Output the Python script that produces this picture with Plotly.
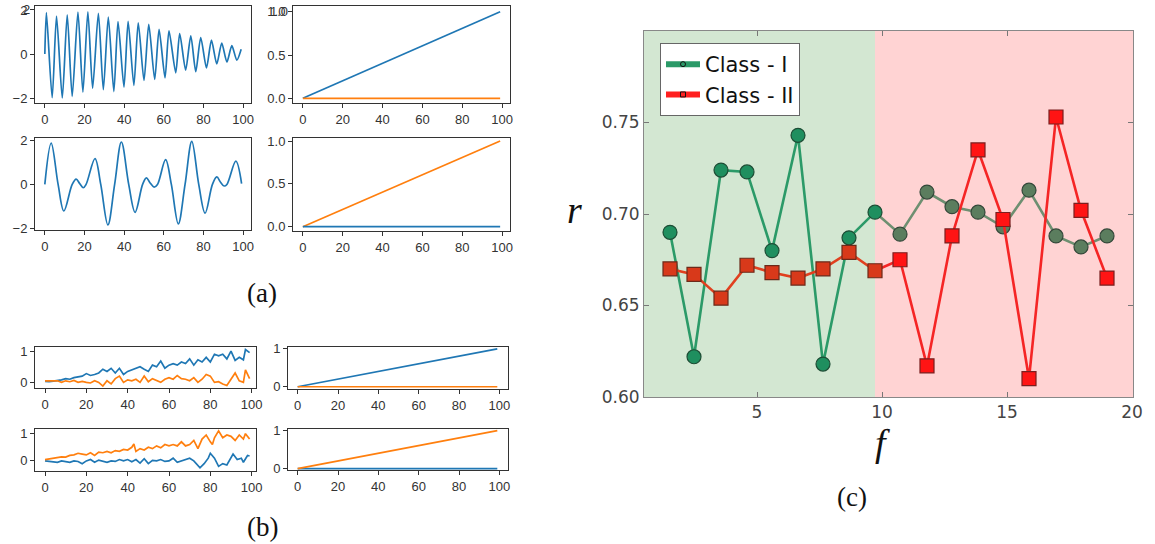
import plotly.graph_objects as go

W, H = 1155, 544

# ---------------- data ----------------
# (a) top-left: decaying oscillation (peaks / troughs)
a1_x = [0, 0.8, 3.7, 5.9, 8.8, 11.3, 13.8, 16.7, 19.2, 21.7, 24.1, 27, 29.5, 32, 34.8, 36.9, 39.9,
        42, 44.9, 47.1, 50, 52.4, 55.4, 57.6, 60.6, 62.6, 66, 68, 71, 73.6, 76.1, 78.6, 81.5, 84,
        86.7, 89.2, 91.8, 94.3, 96.8, 99]
a1_y = [0, 1.88, -1.98, 1.72, -1.99, 1.78, -1.92, 1.9, -1.73, 1.92, -1.55, 1.85, -1.62, 1.68, -1.7,
        1.47, -1.5, 1.48, -1.42, 1.42, -1.2, 1.35, -1.15, 1.12, -1.08, 1.05, -0.85, 0.93, -0.73,
        0.83, -0.8, 0.75, -0.63, 0.63, -0.45, 0.5, -0.36, 0.38, -0.28, 0.22]

# (a) second row: smooth multi-tone signal
a3_x = [0, 3.2, 6.7, 9.6, 13.8, 15.8, 17.5, 19.4, 20.8, 25.3, 28.2, 31.8, 35.2, 38.6, 42.3, 45.5,
        49.3, 51.2, 53.0, 55.1, 56.8, 60.9, 63.8, 67.3, 70.7, 74.1, 77.6, 80.8, 84.5, 86.7, 88.6,
        90.4, 91.8, 96.3, 99.2]
a3_y = [0, 1.87, 0, -1.2, 0, 0.24, 0.05, -0.15, 0, 1.17, 0, -1.83, 0, 1.92, 0, -1.26,
        0, 0.3, 0.08, -0.12, 0, 1.12, 0, -1.78, 0, 1.95, 0, -1.3, 0, 0.34, 0.1,
        -0.07, 0, 1.05, 0.04]

# straight lines of the right-hand panels
lin_x = [0, 99]
ramp_y = [0, 1]
flat_y = [0, 0]

# (b) top-left: noisy series
b1_x = [0, 2, 4, 6, 8, 10, 12, 14, 16, 18, 20, 22, 24, 26, 28, 30, 32, 34, 36, 38, 40, 42, 44, 46,
        48, 50, 52, 54, 56, 58, 60, 62, 64, 66, 68, 70, 72, 74, 76, 78, 80, 82, 84, 86, 88, 90,
        92, 94, 96, 97, 99]
b1_blue = [0.03, 0.02, 0.04, 0.05, 0.08, 0.12, 0.1, 0.15, 0.18, 0.2, 0.28, 0.22, 0.25, 0.3, 0.42,
           0.35, 0.45, 0.3, 0.45, 0.25, 0.35, 0.4, 0.45, 0.5, 0.42, 0.35, 0.55, 0.5, 0.68, 0.45,
           0.55, 0.6, 0.55, 0.65, 0.6, 0.75, 0.55, 0.72, 0.65, 0.8, 0.65, 0.9, 0.85, 0.9, 0.75,
           1.0, 0.7, 0.8, 0.72, 1.05, 0.95]
b1_orange = [0.05, 0.05, 0.03, 0.05, 0.0, 0.05, 0.02, 0.06, 0.0, 0.03, 0.0, -0.02, 0.05, 0.0,
             -0.12, 0.05, -0.05, 0.12, 0.2, 0.0, 0.08, 0.05, 0.1, 0.0, 0.2, 0.02, 0.12, 0.05, 0.0,
             0.1, 0.15, 0.1, 0.22, 0.12, 0.1, 0.05, 0.15, 0.0, 0.1, 0.25, 0.2, 0.0, 0.02, -0.05,
             -0.1, 0.1, 0.3, 0.05, 0.0, 0.4, 0.12]

# (b) bottom-left: noisy series
b3_ox = [0, 2, 4, 6, 8, 10, 12, 14, 16, 18, 20, 22, 24, 26, 28, 30, 32, 34, 36, 38, 40, 42, 43,
         44, 46, 48, 50, 52, 54, 56, 58, 60, 62, 64, 66, 68, 70, 72, 74, 76, 78, 80, 81, 82, 84,
         86, 88, 90, 92, 94, 96, 97, 99]
b3_orange = [0.05, 0.07, 0.1, 0.12, 0.15, 0.14, 0.2, 0.22, 0.28, 0.25, 0.22, 0.3, 0.2, 0.32, 0.3,
             0.35, 0.3, 0.38, 0.35, 0.42, 0.4, 0.5, 0.62, 0.35, 0.45, 0.4, 0.5, 0.45, 0.55, 0.48,
             0.6, 0.55, 0.6, 0.55, 0.7, 0.55, 0.6, 0.75, 0.45, 0.8, 0.95, 0.7, 0.6, 0.85, 1.1,
             0.85, 0.95, 0.9, 0.75, 0.95, 0.8, 1.0, 0.8]
b3_bx = [0, 2, 4, 6, 8, 10, 12, 14, 16, 18, 20, 22, 24, 26, 28, 30, 32, 34, 36, 38, 40, 42, 44,
         46, 48, 50, 52, 54, 56, 58, 60, 62, 64, 66, 68, 70, 72, 74, 75, 77, 79, 80, 82, 84, 86,
         88, 90, 91, 93, 95, 96, 98, 99]
b3_blue = [0.0, -0.02, -0.03, -0.05, 0.0, -0.03, -0.05, 0.0, -0.02, -0.1, 0.0, 0.05, -0.05, 0.03,
           0.0, -0.05, 0.0, -0.02, 0.05, 0.0, 0.05, -0.03, 0.05, -0.08, 0.08, -0.1, 0.02, 0.0,
           0.05, -0.02, 0.0, 0.1, -0.05, 0.0, 0.05, 0.1, 0.0, -0.15, -0.25, -0.1, 0.1, 0.28, 0.1,
           -0.2, -0.1, -0.15, 0.1, 0.25, 0.05, 0.1, -0.05, 0.2, 0.18]

# (c) r versus f
f_vals = [1.52, 2.48, 3.56, 4.6, 5.6, 6.64, 7.64, 8.68, 9.72, 10.72, 11.8, 12.8, 13.84, 14.84,
          15.88, 16.96, 17.96, 19.0]
r_class1 = [0.690, 0.622, 0.724, 0.723, 0.680, 0.743, 0.618, 0.687, 0.701, 0.689, 0.712, 0.704,
            0.701, 0.693, 0.713, 0.688, 0.682, 0.688]
r_class2 = [0.670, 0.667, 0.654, 0.672, 0.668, 0.665, 0.670, 0.679, 0.669, 0.675, 0.617, 0.688,
            0.735, 0.697, 0.610, 0.753, 0.702, 0.665]
class_names = ["Class - I", "Class - II"]
region_split = 9.72   # boundary between the green and the red zone
f_range = [0.48, 20.04]
r_range = [0.60, 0.80]

# ---------------- helpers ----------------
def dx(a, b):
    return [a / W, b / W]


def dy(top, bottom):
    return [1 - bottom / H, 1 - top / H]


C0, C1 = "#1f77b4", "#ff7f0e"
TICKFONT = dict(family="Liberation Sans Narrow, Liberation Sans, sans-serif", size=13, color="#333")


def mpl_axes(n, xdom, ydom, xr, yr, yvals, ytext):
    common = dict(showline=True, linecolor="#333", linewidth=1, mirror=True, ticks="outside",
                  ticklen=4, tickcolor="#333", showgrid=False, zeroline=False, tickfont=TICKFONT,
                  automargin=False, ticklabeloverflow="allow")
    xa = dict(domain=xdom, range=xr, anchor="y%d" % n if n > 1 else "y",
              tickvals=[0, 20, 40, 60, 80, 100], **common)
    ya = dict(domain=ydom, range=yr, anchor="x%d" % n if n > 1 else "x",
              tickvals=yvals, ticktext=ytext, **common)
    return xa, ya


fig = go.Figure()


def add_line(n, x, y, color, shape="linear", smoothing=1.0):
    fig.add_trace(go.Scatter(x=x, y=y, mode="lines",
                             line=dict(color=color, width=1.7, shape=shape, smoothing=smoothing),
                             xaxis="x%d" % n if n > 1 else "x", yaxis="y%d" % n if n > 1 else "y",
                             showlegend=False, hoverinfo="skip"))


# panel (a)
add_line(1, a1_x, a1_y, C0, shape="spline", smoothing=0.7)
add_line(2, lin_x, ramp_y, C0)
add_line(2, lin_x, flat_y, C1)
add_line(3, a3_x, a3_y, C0, shape="spline")
add_line(4, lin_x, ramp_y, C1)
add_line(4, lin_x, flat_y, C0)
# panel (b)
add_line(5, b1_x, b1_blue, C0)
add_line(5, b1_x, b1_orange, C1)
add_line(6, lin_x, ramp_y, C0)
add_line(6, lin_x, flat_y, C1)
add_line(7, b3_bx, b3_blue, C0)
add_line(7, b3_ox, b3_orange, C1)
add_line(8, lin_x, flat_y, C0)
add_line(8, lin_x, ramp_y, C1)

# panel (c)
k = sum(1 for v in f_vals if v <= region_split)  # points in the green zone


def add_class(yv, line_g, line_p, fill_g, fill_p, edge_g, edge_p, symbol):
    fig.add_trace(go.Scatter(x=f_vals[:k], y=yv[:k], mode="lines",
                             line=dict(color=line_g, width=2.6), xaxis="x9", yaxis="y9",
                             showlegend=False, hoverinfo="skip"))
    fig.add_trace(go.Scatter(x=f_vals[k - 1:], y=yv[k - 1:], mode="lines",
                             line=dict(color=line_p, width=2.6), xaxis="x9", yaxis="y9",
                             showlegend=False, hoverinfo="skip"))
    fills = [fill_g if v <= region_split else fill_p for v in f_vals]
    edges = [edge_g if v <= region_split else edge_p for v in f_vals]
    fig.add_trace(go.Scatter(x=f_vals, y=yv, mode="markers",
                             marker=dict(symbol=symbol, size=14, color=fills,
                                         line=dict(color=edges, width=1.2)),
                             xaxis="x9", yaxis="y9", showlegend=False, hoverinfo="skip"))


add_class(r_class1, "#2b9a68", "#6e8f71", "#1f8f5f", "#5b7d5e", "#1d4d35", "#34483a", "circle")
add_class(r_class2, "#e0401f", "#f52525", "#d8391a", "#ff1414", "#6b2a1a", "#7a1f1f", "square")

# legend entries
fig.add_trace(go.Scatter(x=[None], y=[None], mode="lines+markers", name=class_names[0],
                         line=dict(color="#2b9a68", width=6),
                         marker=dict(symbol="circle", size=5, color="#2b9a68",
                                     line=dict(color="#111", width=1)),
                         xaxis="x9", yaxis="y9"))
fig.add_trace(go.Scatter(x=[None], y=[None], mode="lines+markers", name=class_names[1],
                         line=dict(color="#ff2020", width=6),
                         marker=dict(symbol="square", size=5, color="#ff2020",
                                     line=dict(color="#111", width=1)),
                         xaxis="x9", yaxis="y9"))

layout = dict(template="none", width=W, height=H, margin=dict(l=0, r=0, t=0, b=0, pad=0),
              paper_bgcolor="white", plot_bgcolor="white", showlegend=True)

specs = [
    (1, dx(35, 251), dy(6, 103), [-4.95, 103.95], [-2.22, 2.18], [-2, 0, 2], ["\u22122", "0", "2"]),
    (2, dx(293, 510), dy(6, 103), [-4.95, 103.95], [-0.054, 1.066], [0, 0.5, 1], ["0.0", "0.5", "1.0"]),
    (3, dx(35, 251), dy(138, 230), [-4.95, 103.95], [-2.06, 2.1], [-2, 0, 2], ["\u22122", "0", "2"]),
    (4, dx(293, 510), dy(138, 231), [-4.95, 103.95], [-0.05, 1.035], [0, 0.5, 1], ["0.0", "0.5", "1.0"]),
    (5, dx(35, 256), dy(347, 388), [-4.84, 102.1], [-0.18, 1.13], [0, 1], ["0", "1"]),
    (6, dx(288, 508), dy(347, 389), [-4.8, 104.3], [-0.06, 1.05], [0, 1], ["0", "1"]),
    (7, dx(35, 256), dy(429, 471), [-4.84, 102.1], [-0.37, 1.17], [0, 1], ["0", "1"]),
    (8, dx(288, 508), dy(429, 470), [-4.8, 104.3], [-0.035, 1.045], [0, 1], ["0", "1"]),
]
for n, xd, yd, xr, yr, yv, yt in specs:
    xa, ya = mpl_axes(n, xd, yd, xr, yr, yv, yt)
    layout["xaxis" if n == 1 else "xaxis%d" % n] = xa
    layout["yaxis" if n == 1 else "yaxis%d" % n] = ya

CFONT = dict(family="DejaVu Sans, sans-serif", size=17, color="#444")
c_common = dict(showline=True, linecolor="#888", linewidth=1, mirror="ticks", ticks="inside",
                ticklen=5, tickcolor="#777", showgrid=False, zeroline=False, tickfont=CFONT,
                automargin=False, ticklabeloverflow="allow")
layout["xaxis9"] = dict(domain=dx(644, 1133), range=f_range, anchor="y9",
                        tickvals=[5, 10, 15, 20], **c_common)
layout["yaxis9"] = dict(domain=dy(31, 397), range=r_range, anchor="x9",
                        tickvals=[0.60, 0.65, 0.70, 0.75],
                        ticktext=["0.60", "0.65", "0.70", "0.75"], **c_common)

layout["shapes"] = [
    dict(type="rect", xref="x9", yref="y9", x0=f_range[0], x1=region_split, y0=r_range[0],
         y1=r_range[1], fillcolor="#d3e7d2", line=dict(width=0), layer="below"),
    dict(type="rect", xref="x9", yref="y9", x0=region_split, x1=f_range[1], y0=r_range[0],
         y1=r_range[1], fillcolor="#ffd3d3", line=dict(width=0), layer="below"),
]

layout["legend"] = dict(x=660 / W, y=1 - 43 / H, xanchor="left", yanchor="top",
                        bgcolor="white", bordercolor="#666", borderwidth=1,
                        font=dict(family="DejaVu Sans, sans-serif", size=21, color="#111"),
                        itemwidth=34, tracegroupgap=0)

SERIF = "Liberation Serif, DejaVu Serif, serif"


def label(text, px, py, size):
    return dict(text=text, x=px / W, y=1 - py / H, xref="paper", yref="paper",
                showarrow=False, xanchor="center", yanchor="middle",
                font=dict(family=SERIF, size=size, color="#111"))


def top_tick(text, axis_px, yref, value):
    # top tick label of the first-row panels, which the browser view hides at the page edge
    return dict(text=text, x=(axis_px - 4.5) / W, y=value, xref="paper", yref=yref,
                showarrow=False, xanchor="right", yanchor="middle", borderpad=0,
                font=TICKFONT)


layout["annotations"] = [
    label("(a)", 262, 293, 27),
    label("(b)", 262, 527, 27),
    label("(c)", 852, 497, 27),
    label("<i>r</i>", 574, 210, 38),
    label("<i>f</i>", 882, 443, 38),
    top_tick("2", 35, "y", 2),
    top_tick("1.0", 293, "y2", 1),
]

fig.update_layout(**layout)
# remove the default page margin so the figure sits at the window's top-left corner,
# then draw the figure again at its new place
POST = ("document.body.style.margin='0px';"
        "var gd=document.getElementById('{plot_id}');"
        "return Plotly.newPlot(gd, gd.data, gd.layout, gd._context);")
fig.write_html("out.html", config={"displayModeBar": False}, post_script=POST)
